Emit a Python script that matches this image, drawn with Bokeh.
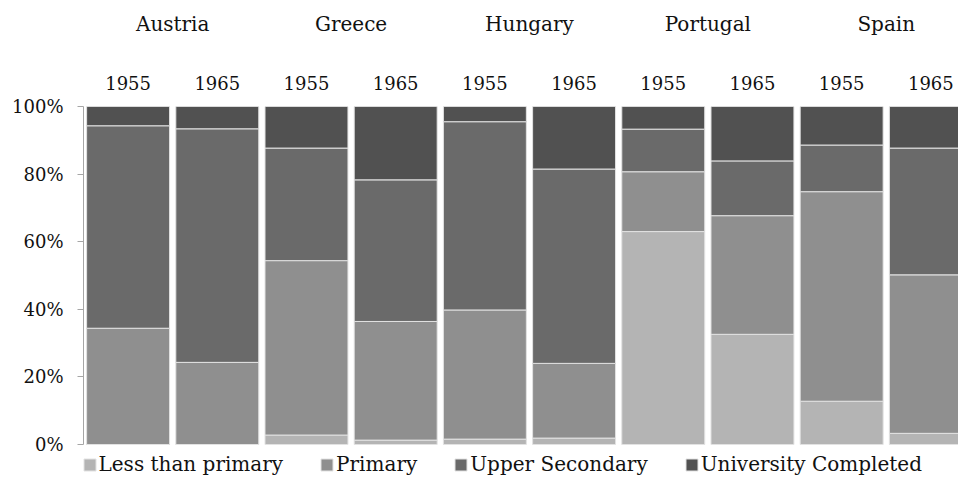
from bokeh.plotting import figure
from bokeh.models import (Range1d, LinearAxis, FixedTicker, ColumnDataSource,
                          Legend, LegendItem, PrintfTickFormatter)
from bokeh.embed import file_html
from bokeh.resources import INLINE

countries = ["Austria", "Greece", "Hungary", "Portugal", "Spain"]
years = ["1955", "1965"]

levels = ["Less than primary", "Primary", "Upper Secondary", "University Completed"]
less_than_primary = [0.0, 0.0, 2.8, 1.3, 1.6, 1.9, 63.0, 32.6, 12.8, 3.3]
primary = [34.4, 24.3, 51.6, 35.1, 38.2, 22.1, 17.7, 35.1, 62.0, 46.9]
upper_secondary = [59.9, 69.1, 33.3, 41.9, 55.7, 57.5, 12.6, 16.2, 13.8, 37.5]
university = [5.7, 6.6, 12.3, 21.7, 4.5, 18.5, 6.7, 16.1, 11.4, 12.3]
colors = ["#b4b4b4", "#8f8f8f", "#6a6a6a", "#515151"]
y_ticks = [0, 20, 40, 60, 80, 100]

FONT = "DejaVu Serif"

n = len(countries) * len(years)
xpos = list(range(n))
bar_years = [y for c in countries for y in years]
country_pos = [i * len(years) + (len(years) - 1) / 2 for i in range(len(countries))]

src = ColumnDataSource(dict(
    x=xpos,
    less=less_than_primary,
    prim=primary,
    upper=upper_secondary,
    univ=university,
))

# frame runs from y=106 to the bottom edge; the extra space below 0% holds the legend
p = figure(width=958, height=477,
           x_range=Range1d(-0.5, 9.31), y_range=Range1d(-9.76, 100),
           output_backend="svg", toolbar_location=None,
           x_axis_location=None,
           min_border_left=83, min_border_right=0,
           min_border_top=106, min_border_bottom=0)
p.outline_line_color = None
p.xgrid.visible = False
p.ygrid.visible = False
p.background_fill_color = "white"

rs = p.vbar_stack(["less", "prim", "upper", "univ"], x="x", width=0.93,
                  color=colors, line_color="#e2e2e2", line_width=1, source=src)

# y axis
ya = p.yaxis[0]
ya.ticker = FixedTicker(ticks=y_ticks)
ya.bounds = (0, 100)
ya.formatter = PrintfTickFormatter(format="%d%%")
ya.axis_line_color = "#a6a6a6"
ya.major_tick_line_color = "#a6a6a6"
ya.major_tick_out = 6
ya.major_tick_in = 0
ya.minor_tick_line_color = None
ya.major_label_text_font = FONT
ya.major_label_text_font_size = "18px"
ya.major_label_text_color = "#111111"
ya.major_label_standoff = 14

# year axis (above)
year_axis = LinearAxis(ticker=FixedTicker(ticks=xpos),
                       major_label_overrides={float(i): y for i, y in zip(xpos, bar_years)})
# country axis (above, further out)
country_axis = LinearAxis(ticker=FixedTicker(ticks=country_pos),
                          major_label_overrides={float(v): c for v, c in zip(country_pos, countries)})
for ax, size, standoff in ((year_axis, "18px", 11), (country_axis, "20px", 31)):
    ax.axis_line_color = None
    ax.major_tick_line_color = None
    ax.minor_tick_line_color = None
    ax.major_label_text_font = FONT
    ax.major_label_text_font_size = size
    ax.major_label_text_color = "#111111"
    ax.major_label_standoff = standoff
p.add_layout(year_axis, "above")
p.add_layout(country_axis, "above")

legend = Legend(items=[LegendItem(label=l, renderers=[r]) for l, r in zip(levels, rs)],
                orientation="horizontal", location=(-1.5, 1),
                label_text_font=FONT, label_text_font_size="20px",
                label_text_color="#111111",
                glyph_width=15, glyph_height=15, label_standoff=2,
                spacing=36, padding=0, margin=0,
                border_line_color=None, background_fill_alpha=0)
p.add_layout(legend, "center")

open("out.html", "w").write(file_html(p, INLINE))
